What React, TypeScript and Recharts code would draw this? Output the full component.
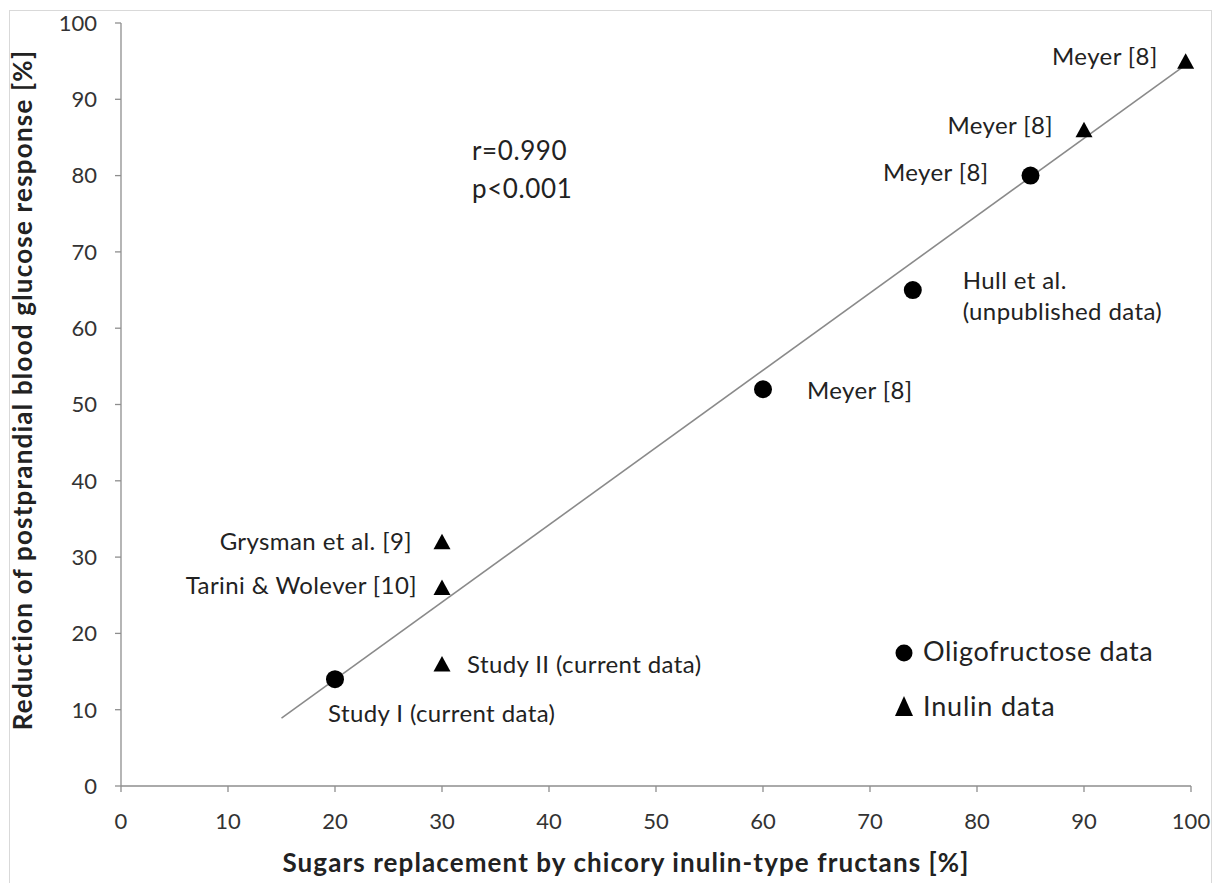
import React from "react";
import {
  ScatterChart,
  Scatter,
  XAxis,
  YAxis,
  ReferenceLine,
  Customized,
  Label,
} from "recharts";

// ---- data ----
const oligoX = [20, 60, 74, 85];
const oligoY = [14, 52, 65, 80];
const oligoLabels = [
  "Study I (current data)",
  "Meyer [8]",
  "Hull et al.\n(unpublished data)",
  "Meyer [8]",
];

const inulinX = [30, 30, 30, 90, 99.5];
const inulinY = [32, 26, 16, 86, 95];
const inulinLabels = [
  "Grysman et al. [9]",
  "Tarini & Wolever [10]",
  "Study II (current data)",
  "Meyer [8]",
  "Meyer [8]",
];

const trendX = [15, 99.5];
const trendY = [8.9, 94.5];

const xTicks = [0, 10, 20, 30, 40, 50, 60, 70, 80, 90, 100];
const yTicks = [0, 10, 20, 30, 40, 50, 60, 70, 80, 90, 100];

const seriesNames = ["Oligofructose data", "Inulin data"];
const statsLines = ["r=0.990", "p<0.001"];

const xTitle = "Sugars replacement by chicory inulin-type fructans [%]";
const yTitle = "Reduction of postprandial blood glucose response [%]";

// ---- styles / label placement (pixel offsets from marker centre) ----
const FONT = "Lato, 'Open Sans', sans-serif";
const TEXT = "#222222";
const AXIS = "#8e8e8e";
const LABEL_SIZE = 24;
const LABEL_SPACING = 0.4;

type Pos = { dx: number; dy: number; anchor: "start" | "end"; gap?: number };
const oligoLabelPos: Pos[] = [
  { dx: -7, dy: 33, anchor: "start" },
  { dx: 44, dy: 0, anchor: "start" },
  { dx: 50, dy: -11, anchor: "start", gap: 31 },
  { dx: -42, dy: -4, anchor: "end" },
];
const inulinLabelPos: Pos[] = [
  { dx: -30, dy: -1, anchor: "end" },
  { dx: -25, dy: -3, anchor: "end" },
  { dx: 25, dy: 0, anchor: "start" },
  { dx: -31, dy: -5, anchor: "end" },
  { dx: -28, dy: -6, anchor: "end" },
];

const oligoData = oligoX.map((x, i) => ({ x, y: oligoY[i], label: oligoLabels[i], i }));
const inulinData = inulinX.map((x, i) => ({ x, y: inulinY[i], label: inulinLabels[i], i }));

function renderLabel(cx: number, cy: number, text: string, pos: Pos) {
  const lines = text.split("\n");
  return lines.map((ln, k) => (
    <text
      key={k}
      x={cx + pos.dx}
      y={cy + pos.dy + k * (pos.gap || 0)}
      textAnchor={pos.anchor}
      dominantBaseline="central"
      fontFamily={FONT}
      fontSize={LABEL_SIZE}
      letterSpacing={LABEL_SPACING}
      fill={TEXT}
    >
      {ln}
    </text>
  ));
}

const CircleShape = (props: any) => {
  const { cx, cy, payload } = props;
  if (cx == null || cy == null) return <g />;
  return (
    <g>
      <circle cx={cx} cy={cy} r={9} fill="#000" />
      {renderLabel(cx, cy, payload.label, oligoLabelPos[payload.i])}
    </g>
  );
};

const TriangleShape = (props: any) => {
  const { cx, cy, payload } = props;
  if (cx == null || cy == null) return <g />;
  return (
    <g>
      <polygon
        points={`${cx},${cy - 8} ${cx - 8.5},${cy + 7.5} ${cx + 8.5},${cy + 7.5}`}
        fill="#000"
      />
      {renderLabel(cx, cy, payload.label, inulinLabelPos[payload.i])}
    </g>
  );
};

const Extras = () => (
  <g>
    {statsLines.map((s, k) => (
      <text
        key={s}
        x={472}
        y={150 + k * 38}
        dominantBaseline="central"
        fontFamily={FONT}
        fontSize={26}
        letterSpacing={0.6}
        fill={TEXT}
      >
        {s}
      </text>
    ))}
    {/* legend */}
    <circle cx={904} cy={653} r={8.5} fill="#000" />
    <text x={923} y={650} dominantBaseline="central" fontFamily={FONT} fontSize={27} letterSpacing={0.6} fill={TEXT}>
      {seriesNames[0]}
    </text>
    <polygon points={`904,696 895,716 913,716`} fill="#000" />
    <text x={923} y={705} dominantBaseline="central" fontFamily={FONT} fontSize={27} letterSpacing={0.8} fill={TEXT}>
      {seriesNames[1]}
    </text>
  </g>
);

export default function App() {
  return (
    <div
      style={{
        position: "absolute",
        left: 0,
        top: 0,
        width: 1216,
        height: 883,
        overflow: "hidden",
        background: "#fff",
      }}
    >
      <div
        style={{
          position: "absolute",
          left: 9,
          top: 10,
          width: 1203,
          height: 900,
          border: "1px solid #d9d9d9",
          boxSizing: "border-box",
        }}
      />
      <div style={{ position: "absolute", left: 0, top: 0 }}>
        <ScatterChart
          width={1216}
          height={883}
          margin={{ top: 23, right: 25, bottom: 0, left: 0 }}
        >
          <XAxis
            type="number"
            dataKey="x"
            domain={[0, 100]}
            ticks={xTicks}
            interval={0}
            height={97}
            tickSize={6}
            tickMargin={21}
            stroke={AXIS}
            strokeWidth={1.3}
            tick={{ fontFamily: FONT, fontSize: 22, fill: "#333" }}
          >
            <Label
              content={() => (
                <text
                  x={626}
                  y={862}
                  textAnchor="middle"
                  dominantBaseline="central"
                  fontFamily={FONT}
                  fontWeight="bold"
                  fontSize={26}
                  letterSpacing={1.1}
                  fill={TEXT}
                >
                  {xTitle}
                </text>
              )}
            />
          </XAxis>
          <YAxis
            type="number"
            dataKey="y"
            domain={[0, 100]}
            ticks={yTicks}
            interval={0}
            width={121}
            tickSize={6}
            tickMargin={18}
            stroke={AXIS}
            strokeWidth={1.3}
            tick={{ fontFamily: FONT, fontSize: 22, fill: "#333" }}
          >
            <Label
              content={() => (
                <text
                  x={22}
                  y={390}
                  transform="rotate(-90 22 390)"
                  textAnchor="middle"
                  dominantBaseline="central"
                  fontFamily={FONT}
                  fontWeight="bold"
                  fontSize={26}
                  letterSpacing={1.2}
                  fill={TEXT}
                >
                  {yTitle}
                </text>
              )}
            />
          </YAxis>
          <ReferenceLine
            segment={[
              { x: trendX[0], y: trendY[0] },
              { x: trendX[1], y: trendY[1] },
            ]}
            stroke="#8a8a8a"
            strokeWidth={1.6}
            ifOverflow="visible"
          />
          <Scatter
            name={seriesNames[0]}
            data={oligoData}
            shape={CircleShape}
            isAnimationActive={false}
          />
          <Scatter
            name={seriesNames[1]}
            data={inulinData}
            shape={TriangleShape}
            isAnimationActive={false}
          />
          <Customized component={Extras} />
        </ScatterChart>
      </div>
    </div>
  );
}
